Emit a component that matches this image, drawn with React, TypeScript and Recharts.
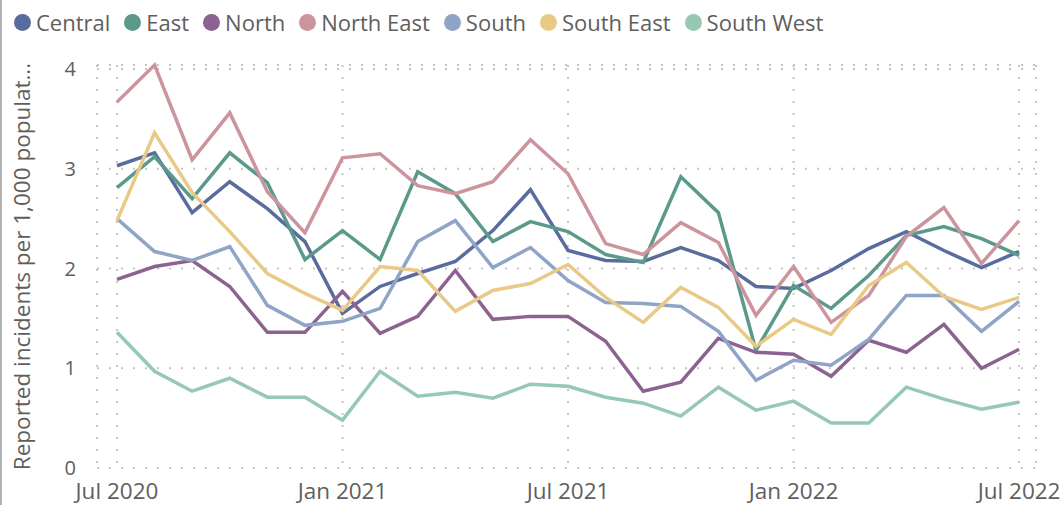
import React from 'react';
import { LineChart, Line, XAxis, YAxis, CartesianGrid, Legend } from 'recharts';

const months = ['Jul 2020','Aug 2020','Sep 2020','Oct 2020','Nov 2020','Dec 2020','Jan 2021','Feb 2021','Mar 2021','Apr 2021','May 2021','Jun 2021','Jul 2021','Aug 2021','Sep 2021','Oct 2021','Nov 2021','Dec 2021','Jan 2022','Feb 2022','Mar 2022','Apr 2022','May 2022','Jun 2022','Jul 2022'];
const tickIndexes = [0, 6, 12, 18, 24];
const yTicks = [0, 1, 2, 3, 4];

const central = [3.03,3.16,2.56,2.87,2.60,2.27,1.55,1.82,1.95,2.07,2.38,2.79,2.18,2.08,2.07,2.21,2.08,1.82,1.80,1.98,2.20,2.37,2.18,2.01,2.17];
const east = [2.81,3.12,2.70,3.16,2.86,2.09,2.38,2.09,2.97,2.75,2.27,2.47,2.37,2.14,2.06,2.92,2.56,1.18,1.83,1.60,1.93,2.33,2.42,2.30,2.13];
const north = [1.89,2.02,2.08,1.82,1.36,1.36,1.77,1.35,1.52,1.98,1.49,1.52,1.52,1.27,0.77,0.86,1.30,1.16,1.14,0.92,1.28,1.16,1.44,1.00,1.19];
const northEast = [3.67,4.04,3.09,3.56,2.77,2.36,3.11,3.15,2.83,2.75,2.87,3.29,2.95,2.25,2.14,2.46,2.26,1.53,2.02,1.46,1.73,2.32,2.61,2.05,2.48];
const south = [2.50,2.17,2.08,2.22,1.63,1.43,1.47,1.60,2.27,2.48,2.01,2.21,1.88,1.66,1.65,1.62,1.37,0.88,1.08,1.03,1.29,1.73,1.73,1.37,1.67];
const southEast = [2.48,3.36,2.76,2.37,1.95,1.75,1.58,2.02,1.98,1.57,1.78,1.85,2.04,1.71,1.46,1.81,1.61,1.22,1.49,1.34,1.83,2.06,1.72,1.59,1.71];
const southWest = [1.36,0.97,0.77,0.90,0.71,0.71,0.48,0.97,0.72,0.76,0.70,0.84,0.82,0.71,0.65,0.52,0.81,0.58,0.67,0.45,0.45,0.81,0.69,0.59,0.66];

const seriesNames = ['Central', 'East', 'North', 'North East', 'South', 'South East', 'South West'];
const seriesValues = [central, east, north, northEast, south, southEast, southWest];
const seriesColors = ['#5A6C9E', '#5B9A8A', '#8C6390', '#CC949D', '#8FA4C6', '#E8C986', '#97C8B3'];

const data = months.map((m, i) => {
  const row: Record<string, number | string> = { idx: i, month: m };
  seriesNames.forEach((n, s) => { row[n] = seriesValues[s][i]; });
  return row;
});

const FONT = '"Segoe UI", "Open Sans", "Noto Sans", sans-serif';
const TEXT = '#605E5C';

const LegendContent = () => (
  <div style={{ display: 'flex', alignItems: 'center', height: 44, fontFamily: FONT, fontSize: 22, color: TEXT, paddingLeft: 14, whiteSpace: 'nowrap' }}>
    {seriesNames.map((n, i) => (
      <div key={n} style={{ display: 'flex', alignItems: 'center', marginRight: 14 }}>
        <span style={{ width: 17, height: 17, borderRadius: 9, background: seriesColors[i], display: 'inline-block', marginRight: 5 }} />
        <span>{n}</span>
      </div>
    ))}
  </div>
);

const YTitle = (props: any) => {
  const vb = props.viewBox || {};
  const cy = (vb.y ?? 65) + (vb.height ?? 403) / 2;
  const cx = 21;
  return (
    <text x={cx} y={cy} transform={`rotate(-90 ${cx} ${cy})`} textAnchor="middle" dominantBaseline="central" fill={TEXT} fontFamily={FONT} fontSize={22.5}>
      Reported incidents per 1,000 populat...
    </text>
  );
};

export default function App() {
  return (
    <div style={{ position: 'absolute', left: 0, top: 0, width: 1060, height: 505, background: '#fff' }}>
      <div style={{ position: 'absolute', left: 0, top: 0, width: 2, height: 505, background: '#B3B3B3' }} />
      <LineChart width={1060} height={505} data={data} margin={{ top: 21, right: 24, bottom: 0, left: 0 }}>
        <Legend verticalAlign="top" align="left" content={<LegendContent />} wrapperStyle={{ top: 0, left: 0, height: 44 }} height={44} />
        <CartesianGrid stroke="#C4C4C4" strokeWidth={2} strokeDasharray="2 10" horizontal vertical />
        <XAxis
          dataKey="idx"
          type="number"
          domain={[-0.532, 24.45]}
          ticks={tickIndexes}
          tickFormatter={(v: number) => months[v]}
          axisLine={false}
          tickLine={false}
          height={37}
          tickMargin={9}
          interval={0}
          tick={{ fill: TEXT, fontFamily: FONT, fontSize: 22.5 }}
        />
        <YAxis
          type="number"
          domain={[0, 4.04]}
          ticks={yTicks}
          axisLine={false}
          tickLine={false}
          width={97}
          tickMargin={15}
          tick={{ fill: TEXT, fontFamily: FONT, fontSize: 20 }}
          label={<YTitle />}
        />
        {seriesNames.map((n, i) => (
          <Line key={n} type="linear" dataKey={n} stroke={seriesColors[i]} strokeWidth={3.5} dot={false} activeDot={false} isAnimationActive={false} />
        ))}
      </LineChart>
    </div>
  );
}
